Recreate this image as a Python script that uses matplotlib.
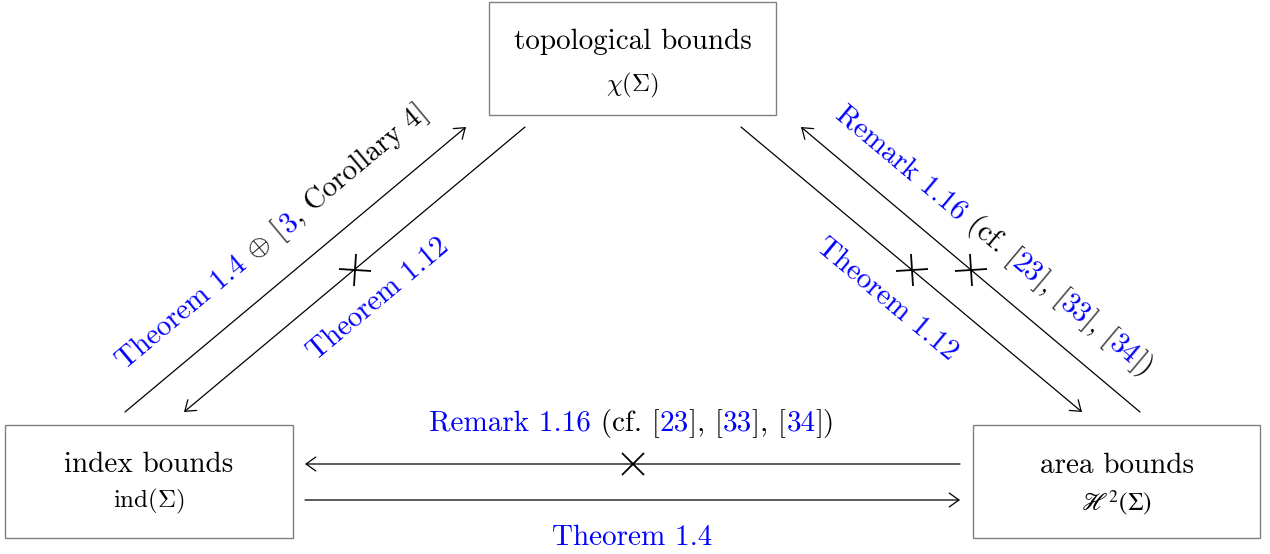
import numpy as np
import matplotlib
matplotlib.use("Agg")
import matplotlib.pyplot as plt
from matplotlib.patches import FancyArrowPatch, Rectangle
from matplotlib.markers import MarkerStyle
from matplotlib.transforms import Affine2D

plt.rcParams['mathtext.fontset'] = 'cm'
plt.rcParams['font.family'] = 'cmr10'
plt.rcParams['axes.unicode_minus'] = False

BLUE = '#0000ff'
BLACK = '#000000'
GREY = '#808080'

# ---- nodes ----
node_titles = ['topological bounds', 'index bounds', 'area bounds']
node_subs = [r'$\chi(\Sigma)$', r'$\mathrm{ind}(\Sigma)$', r'$\mathscr{H}^2(\Sigma)$']
node_sub_math = ['cm', 'cm', 'stix']
node_boxes = [(489, 2, 287, 113), (5, 425, 288, 113), (973, 425, 287, 113)]  # x, y(top), w, h
title_baseline = [47, 47, 48]
sub_baseline = [89, 82, 86]

# ---- edges ----
edge_starts = [(125, 412), (525, 127), (741, 127), (1140, 412), (960, 464), (305, 500)]
edge_ends = [(466, 127), (184, 412), (1082, 412), (801, 127), (305, 464), (960, 500)]
edge_crossed = [False, True, True, True, True, False]

# ---- edge labels ----
remark_parts = [("Remark 1.16", BLUE), (" (cf. [", BLACK), ("23", BLUE), ("], [", BLACK),
                ("33", BLUE), ("], [", BLACK), ("34", BLUE), ("])", BLACK)]
label_parts = [
    [("Theorem 1.4 ", BLUE), (r"$\oplus$ [", BLACK), ("3", BLUE), (", Corollary 4]", BLACK)],
    [("Theorem 1.12", BLUE)],
    remark_parts,
    [("Theorem 1.12", BLUE)],
    remark_parts,
    [("Theorem 1.4", BLUE)],
]
label_edge = [0, 1, 3, 2, 4, 5]
label_centers = [(270, 237), (378, 298), (995, 240), (888, 298), (632, 422), (632, 536)]

FS = 21
SUBFS = 18

fig = plt.figure(figsize=(12.7, 5.54), dpi=100)
ax = fig.add_axes([0, 0, 1, 1])
ax.set_xlim(0, 1270)
ax.set_ylim(554, 0)
ax.axis('off')
renderer = fig.canvas.get_renderer()


def text_width(s, size):
    t = ax.text(0, 0, s, fontsize=size)
    w = t.get_window_extent(renderer).width
    t.remove()
    return w


def draw_parts(parts, center, angle, size):
    bar = text_width('|', size)
    offsets = []
    acc = ''
    for s, c in parts:
        offsets.append(text_width(acc + '|', size) - bar if acc else 0.0)
        acc += s
    total = text_width(acc, size)
    th = np.deg2rad(angle)
    d = np.array([np.cos(th), -np.sin(th)])
    down = np.array([np.sin(th), np.cos(th)])
    px = size * 100 / 72
    base = np.array(center) + 0.3 * px * down - total / 2 * d
    for (s, c), off in zip(parts, offsets):
        p = base + off * d
        ax.text(p[0], p[1], s, color=c, fontsize=size, rotation=angle,
                rotation_mode='anchor', ha='left', va='baseline')


# boxes
for (x, y, w, h), t, s, mf, tb, sb in zip(node_boxes, node_titles, node_subs, node_sub_math,
                                         title_baseline, sub_baseline):
    ax.add_patch(Rectangle((x, y), w, h, fill=False, edgecolor=GREY, lw=1.0))
    ax.text(x + w / 2, y + tb, t, fontsize=FS, ha='center', va='baseline', color=BLACK)
    ax.text(x + w / 2, y + sb, s, fontsize=SUBFS, ha='center', va='baseline', color=BLACK,
            math_fontfamily=mf)

# edges
edge_angles = []
for a, b, cr in zip(edge_starts, edge_ends, edge_crossed):
    arr = FancyArrowPatch(a, b, arrowstyle='->,head_length=0.35,head_width=0.25',
                          mutation_scale=20, lw=0.9, color=BLACK, shrinkA=0, shrinkB=0)
    ax.add_patch(arr)
    ang = np.degrees(np.arctan2(-(b[1] - a[1]), b[0] - a[0]))
    ang = (ang + 90) % 180 - 90
    edge_angles.append(ang)
    if cr:
        mx, my = (a[0] + b[0]) / 2, (a[1] + b[1]) / 2
        ms = MarkerStyle('x', transform=Affine2D().rotate_deg(ang))
        ax.plot([mx], [my], marker=ms, ms=16.5, mew=1.3, color=BLACK, ls='none')

# labels
for parts, ei, c in zip(label_parts, label_edge, label_centers):
    draw_parts(parts, c, edge_angles[ei], FS)

fig.savefig('out.png', dpi=100)
